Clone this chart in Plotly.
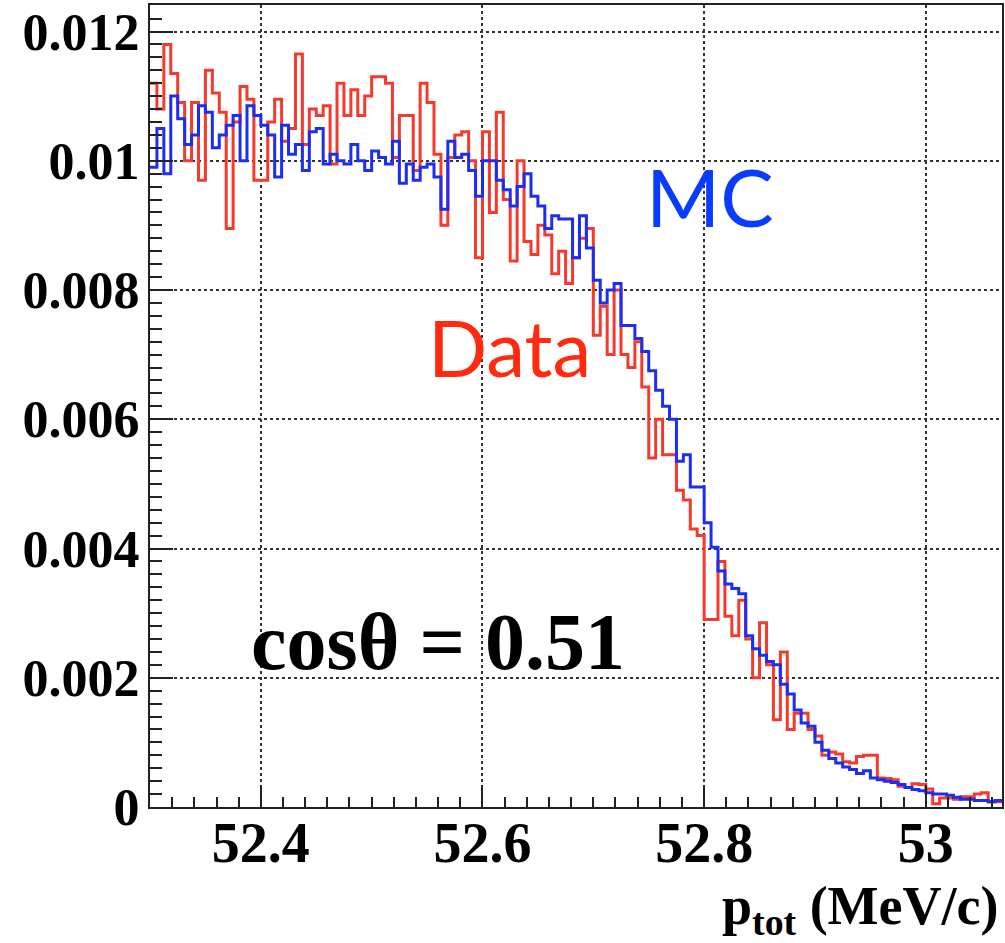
import plotly.graph_objects as go

# Histogram binning (MeV/c)
bin_start = 52.3
bin_width = 0.00625

# Normalised counts per bin, in units of 1e-3
mc_milli = [
    9.9, 10.5, 9.8, 11.0, 10.65, 10.25, 10.4, 10.85, 10.75, 10.2, 10.4, 10.55,
    10.7, 10.0, 10.85, 10.7, 10.55, 10.4, 9.75, 10.55, 10.1, 10.25, 9.85, 10.45,
    10.5, 9.95, 10.1, 10.0, 9.95, 10.25, 10.0, 9.85, 10.15, 10.05, 9.95, 10.3,
    9.65, 9.95, 9.7, 9.9, 9.95, 9.75, 9.25, 10.3, 10.05, 10.1, 9.85, 9.45,
    10.0, 10.0, 9.7, 9.55, 9.3, 9.6, 9.8, 9.45, 9.3, 8.95, 9.15, 9.1,
    9.1, 8.5, 9.15, 8.65, 8.15, 7.8, 8.0, 8.1, 7.45, 7.45, 7.25, 7.05,
    6.75, 6.45, 6.2, 6.0, 5.35, 5.45, 4.95, 4.95, 4.4,
    4.02, 3.65, 3.45, 3.38, 3.3, 2.65, 2.45, 2.35, 2.25, 2.2, 1.9, 1.75,
    1.5, 1.3, 1.25, 1.0, 0.88, 0.75, 0.68, 0.62, 0.58, 0.52, 0.56, 0.45,
    0.42, 0.4, 0.38, 0.35, 0.3, 0.27, 0.25, 0.22, 0.2, 0.2, 0.18, 0.15,
    0.12, 0.12, 0.1, 0.1, 0.08, 0.1,
]
data_milli = [
    11.2, 10.8, 11.8, 11.35, 10.9, 10.0, 10.9, 9.7, 11.4, 11.05, 10.75, 8.95,
    10.6, 11.15, 10.95, 9.7, 9.7, 10.6, 10.95, 10.3, 10.5, 11.65, 10.25, 10.8,
    10.7, 10.85, 9.95, 11.2, 10.7, 11.1, 10.7, 11.0, 11.3, 11.3, 11.2, 10.05,
    10.7, 10.7, 9.85, 11.2, 10.9, 10.1, 9.0, 10.05, 10.4, 10.45, 10.0, 8.5,
    10.45, 9.2, 10.75, 9.4, 8.45, 10.0, 8.75, 8.55, 9.0, 8.85, 8.25, 8.6,
    8.1, 8.5, 8.8, 8.95, 7.3, 7.75, 7.0, 8.0, 7.0, 6.8, 7.2, 6.5,
    5.4, 6.0, 5.45, 5.45, 4.9, 4.75, 4.3, 4.2, 2.9,
    2.9, 3.8, 2.95, 2.65, 3.2, 2.6, 2.0, 2.85, 2.2, 1.35, 2.4, 1.2,
    1.45, 1.45, 1.2, 1.1, 0.8, 0.85, 0.82, 0.7, 0.68, 0.78, 0.8, 0.8,
    0.45, 0.44, 0.42, 0.32, 0.3, 0.36, 0.35, 0.28, 0.05, 0.14, 0.14, 0.12,
    0.16, 0.16, 0.2, 0.22, 0.08, 0.08,
]

x_tickvals = [52.4, 52.6, 52.8, 53.0]
x_ticktext = ["52.4", "52.6", "52.8", "53"]
y_tickvals = [0, 0.002, 0.004, 0.006, 0.008, 0.010, 0.012]
y_ticktext = ["0", "0.002", "0.004", "0.006", "0.008", "0.01", "0.012"]

n_bins = len(mc_milli)
assert len(data_milli) == n_bins

mc = [v * 1e-3 for v in mc_milli]
data = [v * 1e-3 for v in data_milli]
edges = [bin_start + i * bin_width for i in range(n_bins + 1)]


def step(vals):
    return edges, vals + [vals[-1]]


RED = "#f43a2c"
BLUE = "#1b2ef2"

fig = go.Figure()
xs, ys = step(data)
fig.add_trace(go.Scatter(x=xs, y=ys, mode="lines", line=dict(color=RED, width=3, shape="hv"),
                         showlegend=False, hoverinfo="skip"))
xs, ys = step(mc)
fig.add_trace(go.Scatter(x=xs, y=ys, mode="lines", line=dict(color=BLUE, width=3, shape="hv"),
                         showlegend=False, hoverinfo="skip"))

fig.update_xaxes(
    range=[bin_start, bin_start + n_bins * bin_width],
    tickvals=x_tickvals, ticktext=x_ticktext,
    tickfont=dict(family="Liberation Serif", size=56, color="black", weight="bold"),
    ticks="inside", ticklen=22, tickwidth=2, tickcolor="#222",
    minor=dict(dtick=0.02, tick0=52.3, ticks="inside", ticklen=10, tickwidth=2, tickcolor="#222", showgrid=False),
    showgrid=True, gridcolor="#333", gridwidth=1.5, griddash="dot",
    showline=True, linecolor="#222", linewidth=2, mirror=True,
    zeroline=False, ticklabelstandoff=-14, automargin=False,
)
fig.update_yaxes(
    range=[0, 0.01241],
    tickvals=y_tickvals, ticktext=y_ticktext,
    tickfont=dict(family="Liberation Serif", size=52, color="black", weight="bold"),
    ticks="inside", ticklen=23, tickwidth=2, tickcolor="#222",
    minor=dict(dtick=0.0002, tick0=0, ticks="inside", ticklen=12, tickwidth=2, tickcolor="#222", showgrid=False),
    showgrid=True, gridcolor="#333", gridwidth=1.5, griddash="dot",
    showline=True, linecolor="#222", linewidth=2, mirror=True,
    zeroline=False, ticklabelstandoff=-2, automargin=False,
)

fig.add_annotation(x=52.805, y=0.00945, xref="x", yref="y", text="MC", showarrow=False,
                   font=dict(family="Lato", size=80, color="#0a3cff"))
fig.add_annotation(x=52.624, y=0.00712, xref="x", yref="y", text="Data", showarrow=False,
                   font=dict(family="Lato", size=78, color="#ff2a10"))
fig.add_annotation(x=52.560, y=0.00255, xref="x", yref="y", text="cosθ = 0.51", showarrow=False,
                   font=dict(family="Liberation Serif", size=80, color="black", weight="bold"))
fig.add_annotation(x=0.999, y=-0.083, xref="paper", yref="paper", xanchor="right", yanchor="top",
                   text="p<sub>tot</sub> (MeV/c)", showarrow=False,
                   font=dict(family="Liberation Serif", size=54, color="black", weight="bold"))

fig.update_layout(
    width=1005, height=943,
    margin=dict(l=150, r=3, t=5, b=136),
    paper_bgcolor="white", plot_bgcolor="white",
    showlegend=False,
)

fig.write_html(
    "out.html",
    config={"displayModeBar": False},
    post_script="document.body.style.margin='0';document.body.style.overflow='hidden';",
)
